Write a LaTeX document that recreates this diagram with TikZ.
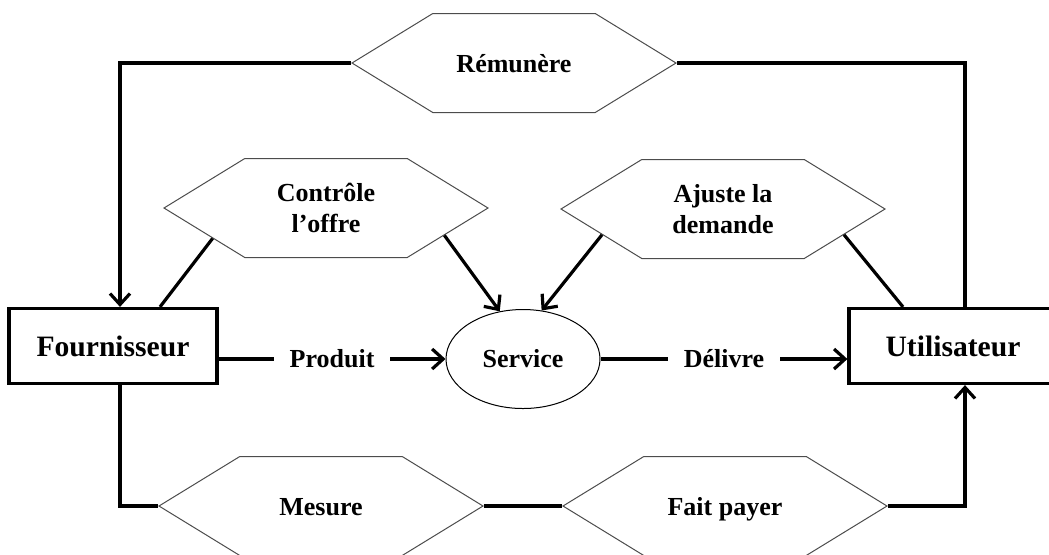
\documentclass[tikz,border=0pt]{standalone}
\usepackage{fontspec}
\setmainfont{Liberation Serif}
\usetikzlibrary{arrows.meta, positioning, shapes.geometric, shapes.symbols}

\begin{document}
\begin{tikzpicture} [node distance =2 cm and 2cm ,on grid, line width=1.6pt, font=\bfseries\fontsize{13}{15.5}\selectfont,
	box/.style ={rectangle, draw, line width=1.6pt, minimum width=104pt, minimum height=37.5pt, font=\bfseries\fontsize{14.8}{17}\selectfont},
	hexa/.style ={signal, signal to=west and east, signal pointer angle=63, draw=black!70, line width=0.5pt, minimum width=162pt, minimum height=49.5pt, inner sep=0pt, text height=9pt, text depth=0pt},
	deux/.style ={hexa, align=center, text height=, text depth=},
	serv/.style ={ellipse, draw, line width=0.5pt, minimum width=77pt, minimum height=49.5pt},
	fleche/.style ={-{Straight Barb[length=5.5pt, width=10pt]}}]
	\useasboundingbox (0,0) rectangle (524.5pt,-277pt);
	\node[box] (F) at (56.5pt,-173pt) {Fournisseur};
	\node[box] (U) [right=420pt of F] {Utilisateur};
	\node[serv] (S) [below right=6.5pt and 205pt of F] {Service};
	\node[hexa] (R) [above left=148pt and 4.5pt of S] {Rémunère};
	\node[deux] (C) [above right=69pt and 106.5pt of F] {Contrôle\\l’offre};
	\node[deux] (A) [above left=68.5pt and 115pt of U] {Ajuste la\\demande};
	\node[hexa] (M) [below right=80pt and 104pt of F] {Mesure};
	\node[hexa] (P) [right=202pt of M] {Fait payer};
	\draw[fleche] (F.east |- S.west) -- node[fill=white, inner xsep=8pt] {Produit} (S.west);
	\draw[fleche] (S.east) -- node[fill=white, inner xsep=8pt] {Délivre} (S.east -| U.west);
	\draw[fleche] (R.west) -| ([xshift=3.5pt]F.north);
	\draw (R.east) -| ([xshift=6pt]U.north);
	\draw ([xshift=3.5pt]F.south) |- (M.west);
	\draw (M.east) -- (P.west);
	\draw[fleche] (P.east) -| ([xshift=6pt]U.south);
	\draw (C.195) -- ([xshift=23.5pt]F.north);
	\draw[fleche] (C.-13) -- (S.116);
	\draw[fleche] (A.192) -- (S.69);
	\draw (A.-12) -- ([xshift=-25pt]U.north);
\end{tikzpicture}
\end{document}
